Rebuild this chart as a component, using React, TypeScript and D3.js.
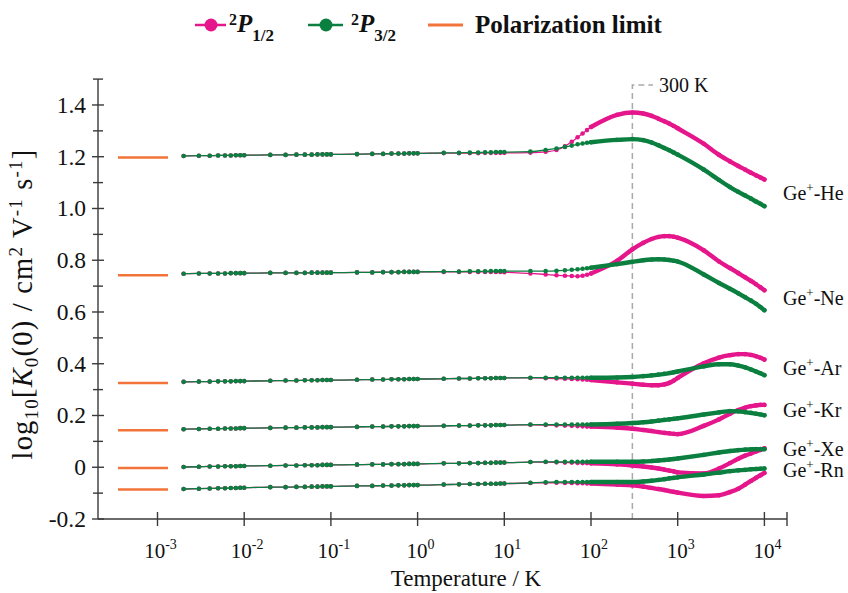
import React from 'react';
import * as d3 from 'd3';

// Temperatures (K) at which the calculated points are drawn
const TEMPS = [
  0.002, 0.003, 0.004, 0.005, 0.006, 0.007, 0.008, 0.009,
  0.01, 0.02, 0.03, 0.04, 0.05, 0.06, 0.07, 0.08, 0.09,
  0.1, 0.2, 0.3, 0.4, 0.5, 0.6, 0.7, 0.8, 0.9,
  1, 2, 3, 4, 5, 6, 7, 8, 9,
  10, 20, 30, 40, 50, 60, 70, 80, 90,
  100, 200, 300, 400, 500, 600, 700, 800, 900,
  1000, 2000, 3000, 4000, 5000, 6000, 7000, 8000, 9000,
  10000,
];

const HE_P32 = [
  1.203, 1.204, 1.204, 1.205, 1.205, 1.205, 1.206, 1.206,
  1.206, 1.207, 1.207, 1.208, 1.208, 1.208, 1.209, 1.209, 1.209,
  1.209, 1.210, 1.211, 1.211, 1.212, 1.212, 1.212, 1.213, 1.213,
  1.213, 1.215, 1.215, 1.216, 1.216, 1.217, 1.217, 1.218, 1.218,
  1.218, 1.220, 1.226, 1.232, 1.238, 1.243, 1.248, 1.251, 1.254,
  1.256, 1.265, 1.268, 1.264, 1.255, 1.244, 1.234, 1.225, 1.216,
  1.208, 1.150, 1.110, 1.083, 1.064, 1.050, 1.038, 1.027, 1.018,
  1.009,
];
const HE_P12 = [
  ...HE_P32.slice(0, 26),
  1.213, 1.214, 1.214, 1.214, 1.214, 1.215, 1.215, 1.215, 1.215,
  1.215, 1.216, 1.219, 1.226, 1.240, 1.258, 1.275, 1.290, 1.303,
  1.315, 1.362, 1.371, 1.367, 1.358, 1.347, 1.337, 1.328, 1.319,
  1.310, 1.250, 1.207, 1.182, 1.164, 1.150, 1.138, 1.128, 1.120,
  1.112,
];

const NE_P32 = [
  0.748, 0.749, 0.749, 0.749, 0.749, 0.750, 0.750, 0.750,
  0.750, 0.751, 0.751, 0.751, 0.751, 0.752, 0.752, 0.752, 0.752,
  0.752, 0.753, 0.753, 0.754, 0.754, 0.754, 0.755, 0.755, 0.755,
  0.755, 0.756, 0.756, 0.757, 0.757, 0.757, 0.758, 0.758, 0.758,
  0.758, 0.758, 0.758, 0.759, 0.761, 0.763, 0.765, 0.767, 0.769,
  0.771, 0.785, 0.794, 0.800, 0.803, 0.804, 0.803, 0.801, 0.798,
  0.795, 0.745, 0.712, 0.690, 0.672, 0.657, 0.644, 0.632, 0.619,
  0.607,
];
const NE_P12 = [
  ...NE_P32.slice(0, 26),
  0.755, 0.755, 0.755, 0.755, 0.755, 0.755, 0.755, 0.755, 0.755,
  0.754, 0.749, 0.745, 0.742, 0.740, 0.739, 0.738, 0.740, 0.744,
  0.749, 0.798, 0.842, 0.867, 0.882, 0.890, 0.893, 0.893, 0.891,
  0.887, 0.838, 0.795, 0.770, 0.750, 0.734, 0.720, 0.707, 0.695,
  0.684,
];

const AR_P32 = [
  0.330, 0.331, 0.331, 0.332, 0.332, 0.332, 0.333, 0.333,
  0.333, 0.334, 0.335, 0.335, 0.336, 0.336, 0.336, 0.337, 0.337,
  0.337, 0.338, 0.339, 0.339, 0.340, 0.340, 0.340, 0.341, 0.341,
  0.341, 0.342, 0.343, 0.343, 0.344, 0.344, 0.344, 0.345, 0.345,
  0.345, 0.346, 0.346, 0.346, 0.346, 0.346, 0.346, 0.346, 0.346,
  0.346, 0.347, 0.349, 0.352, 0.355, 0.358, 0.361, 0.364, 0.367,
  0.370, 0.390, 0.398, 0.398, 0.393, 0.386, 0.378, 0.370, 0.363,
  0.356,
];
const AR_P12 = [
  ...AR_P32.slice(0, 35),
  0.345, 0.345, 0.344, 0.343, 0.342, 0.341, 0.340, 0.339, 0.338,
  0.337, 0.328, 0.323, 0.319, 0.317, 0.317, 0.320, 0.326, 0.335,
  0.345, 0.402, 0.424, 0.433, 0.437, 0.437, 0.434, 0.429, 0.423,
  0.416,
];

const KR_P32 = [
  0.147, 0.148, 0.149, 0.149, 0.150, 0.150, 0.150, 0.151,
  0.151, 0.152, 0.153, 0.153, 0.154, 0.154, 0.154, 0.155, 0.155,
  0.155, 0.156, 0.157, 0.157, 0.158, 0.158, 0.158, 0.159, 0.159,
  0.159, 0.160, 0.161, 0.161, 0.162, 0.162, 0.162, 0.163, 0.163,
  0.163, 0.165, 0.165, 0.165, 0.165, 0.165, 0.165, 0.165, 0.165,
  0.165, 0.168, 0.171, 0.174, 0.177, 0.180, 0.183, 0.185, 0.187,
  0.189, 0.204, 0.212, 0.217, 0.216, 0.213, 0.210, 0.207, 0.204,
  0.201,
];
const KR_P12 = [
  ...KR_P32.slice(0, 35),
  0.163, 0.164, 0.163, 0.162, 0.161, 0.160, 0.159, 0.158, 0.157,
  0.157, 0.153, 0.149, 0.144, 0.140, 0.136, 0.133, 0.131, 0.129,
  0.128, 0.160, 0.185, 0.207, 0.221, 0.230, 0.236, 0.239, 0.241,
  0.241,
];

const XE_P32 = [
  0.001, 0.002, 0.003, 0.003, 0.004, 0.004, 0.004, 0.005,
  0.005, 0.006, 0.007, 0.007, 0.008, 0.008, 0.008, 0.009, 0.009,
  0.009, 0.010, 0.011, 0.011, 0.012, 0.012, 0.012, 0.013, 0.013,
  0.013, 0.015, 0.015, 0.016, 0.016, 0.017, 0.017, 0.018, 0.018,
  0.018, 0.020, 0.021, 0.021, 0.021, 0.021, 0.021, 0.021, 0.021,
  0.021, 0.021, 0.021, 0.022, 0.024, 0.026, 0.028, 0.030, 0.032,
  0.034, 0.048, 0.057, 0.063, 0.066, 0.068, 0.069, 0.070, 0.070,
  0.070,
];
const XE_P12 = [
  ...XE_P32.slice(0, 35),
  0.018, 0.020, 0.020, 0.019, 0.018, 0.018, 0.017, 0.016, 0.016,
  0.015, 0.011, 0.007, 0.003, -0.001, -0.005, -0.009, -0.013, -0.016,
  -0.020, -0.024, -0.005, 0.016, 0.033, 0.045, 0.053, 0.061, 0.067,
  0.073,
];

const RN_P32 = [
  -0.084, -0.083, -0.082, -0.081, -0.081, -0.080, -0.080, -0.079,
  -0.079, -0.077, -0.077, -0.076, -0.076, -0.075, -0.075, -0.074, -0.074,
  -0.074, -0.072, -0.072, -0.071, -0.071, -0.070, -0.070, -0.069, -0.069,
  -0.069, -0.067, -0.066, -0.065, -0.065, -0.064, -0.064, -0.064, -0.063,
  -0.063, -0.060, -0.058, -0.057, -0.057, -0.057, -0.057, -0.057, -0.057,
  -0.057, -0.057, -0.057, -0.055, -0.052, -0.049, -0.046, -0.043, -0.041,
  -0.039, -0.028, -0.021, -0.015, -0.012, -0.010, -0.008, -0.007, -0.006,
  -0.005,
];
const RN_P12 = [
  ...RN_P32.slice(0, 35),
  -0.063, -0.061, -0.060, -0.060, -0.061, -0.061, -0.062, -0.062, -0.063,
  -0.063, -0.067, -0.070, -0.075, -0.080, -0.084, -0.088, -0.092, -0.095,
  -0.098, -0.111, -0.108, -0.096, -0.083, -0.067, -0.053, -0.041, -0.031,
  -0.022,
];

const SYSTEMS = ['He', 'Ne', 'Ar', 'Kr', 'Xe', 'Rn'];
const SERIES_P12 = [HE_P12, NE_P12, AR_P12, KR_P12, XE_P12, RN_P12];
const SERIES_P32 = [HE_P32, NE_P32, AR_P32, KR_P32, XE_P32, RN_P32];
const POL_LIMIT = [1.197, 0.742, 0.326, 0.143, -0.003, -0.086];

const Y_MAJOR = [-0.2, 0, 0.2, 0.4, 0.6, 0.8, 1.0, 1.2, 1.4];
const Y_LABELS = ['-0.2', '0', '0.2', '0.4', '0.6', '0.8', '1.0', '1.2', '1.4'];
const Y_MINOR = [-0.1, 0.1, 0.3, 0.5, 0.7, 0.9, 1.1, 1.3, 1.5];
const X_EXPONENTS = [-3, -2, -1, 0, 1, 2, 3, 4];
const MARK_T = 300;

// ---- layout / style ----
const W = 848;
const H = 593;
const AXIS_LEFT = 98;
const AXIS_RIGHT = 787;
const LABEL_PIX_Y = [193, 298, 368, 410, 449, 470];
const PINK = '#e5168b';
const GREEN = '#0b7f3f';
const ORANGE = '#f3743a';
const AXIS = '#3a3a3a';
const SERIF = "'Liberation Serif', 'Times New Roman', serif";
const THICK_FROM = 100;

const x = d3.scaleLog().domain([1e-3, 1e4]).range([157.5, 764.4]);
const y = d3.scaleLinear().domain([-0.2, 1.5]).range([519, 79.1]);

const lineGen = d3
  .line<[number, number]>()
  .x((d) => x(d[0]))
  .y((d) => y(d[1]))
  .curve(d3.curveMonotoneX);

function Series({ values, color }: { values: number[]; color: string }) {
  const pts: [number, number][] = TEMPS.map((t, i) => [t, values[i]]);
  const thick = pts.filter((p) => p[0] >= THICK_FROM);
  return (
    <g>
      <path d={lineGen(pts) || ''} fill="none" stroke={color} strokeWidth={1.3} />
      <path
        d={lineGen(thick) || ''}
        fill="none"
        stroke={color}
        strokeWidth={4.4}
        strokeLinecap="round"
      />
      {pts.map((p, i) => (
        <circle key={i} cx={x(p[0])} cy={y(p[1])} r={2.3} fill={color} />
      ))}
    </g>
  );
}

export default function App() {
  const axisY = y(-0.2);
  const xMark = x(MARK_T);
  return (
    <svg
      width={W}
      height={H}
      viewBox={`0 0 ${W} ${H}`}
      style={{ position: 'absolute', left: 0, top: 0, background: '#fff' }}
      fontFamily={SERIF}
    >
      <rect x={0} y={0} width={W} height={H} fill="#fff" />

      {/* 300 K marker */}
      <path
        d={`M${xMark},${axisY} V85 H653`}
        fill="none"
        stroke="#aaaaaa"
        strokeWidth={1.5}
        strokeDasharray="6,4"
      />
      <text x={659} y={92} fontSize={20} fill="#111">300 K</text>

      {/* Polarization limits */}
      {POL_LIMIT.map((v, i) => (
        <line key={i} x1={118} x2={168} y1={y(v)} y2={y(v)} stroke={ORANGE} strokeWidth={2.5} />
      ))}

      {/* series */}
      {SYSTEMS.map((s, i) => (
        <g key={s}>
          <Series values={SERIES_P12[i]} color={PINK} />
          <Series values={SERIES_P32[i]} color={GREEN} />
        </g>
      ))}

      {/* system labels */}
      {SYSTEMS.map((s, i) => (
        <text key={s} x={783} y={LABEL_PIX_Y[i] + 7} fontSize={20} fill="#111">
          Ge<tspan dy={-8} fontSize={13}>+</tspan>
          <tspan dy={8}>-{s}</tspan>
        </text>
      ))}

      {/* Y axis */}
      <line x1={AXIS_LEFT} x2={AXIS_LEFT} y1={y(1.5)} y2={axisY} stroke={AXIS} strokeWidth={1.4} />
      {Y_MAJOR.map((v, i) => (
        <g key={'ym' + i}>
          <line x1={AXIS_LEFT - 6} x2={AXIS_LEFT + 6} y1={y(v)} y2={y(v)} stroke={AXIS} strokeWidth={1.4} />
          <text x={86} y={y(v) + 8} fontSize={23.5} textAnchor="end" fill="#111">
            {Y_LABELS[i]}
          </text>
        </g>
      ))}
      {Y_MINOR.map((v, i) => (
        <line key={'yn' + i} x1={AXIS_LEFT - 5} x2={AXIS_LEFT + 5} y1={y(v)} y2={y(v)} stroke={AXIS} strokeWidth={1.4} />
      ))}

      {/* X axis */}
      <line x1={AXIS_LEFT} x2={AXIS_RIGHT} y1={axisY} y2={axisY} stroke={AXIS} strokeWidth={1.4} />
      <line x1={AXIS_RIGHT} x2={AXIS_RIGHT} y1={axisY - 7} y2={axisY + 7} stroke={AXIS} strokeWidth={1.4} />
      {X_EXPONENTS.map((e) => {
        const px = x(Math.pow(10, e));
        return (
          <g key={'x' + e}>
            <line x1={px} x2={px} y1={axisY - 7} y2={axisY + 7} stroke={AXIS} strokeWidth={1.4} />
            <text x={px + 3} y={558} fontSize={21} textAnchor="middle" fill="#111">
              10<tspan dy={-9} fontSize={14}>{String(e)}</tspan>
            </text>
          </g>
        );
      })}

      {/* axis titles */}
      <text x={466} y={586} fontSize={23} textAnchor="middle" fill="#111">
        Temperature / K
      </text>
      <text
        transform="translate(32,304) rotate(-90)"
        fontSize={28.5}
        letterSpacing={1.2}
        textAnchor="middle"
        fill="#111"
      >
        log<tspan dy={6} fontSize={19}>10</tspan>
        <tspan dy={-6}>[</tspan>
        <tspan fontStyle="italic">K</tspan>
        <tspan dy={6} fontSize={19}>0</tspan>
        <tspan dy={-6}>(0) / cm</tspan>
        <tspan dy={-10} fontSize={19}>2</tspan>
        <tspan dy={10}> V</tspan>
        <tspan dy={-10} fontSize={19}>-1</tspan>
        <tspan dy={10}> s</tspan>
        <tspan dy={-10} fontSize={19}>-1</tspan>
        <tspan dy={10}>]</tspan>
      </text>

      {/* legend */}
      <line x1={195} x2={226} y1={25} y2={25} stroke={PINK} strokeWidth={2.5} />
      <circle cx={211} cy={25} r={6.5} fill={PINK} />
      <text x={229} y={32} fontSize={25} fontWeight="bold" fill="#111">
        <tspan dy={-7} fontSize={16}>2</tspan>
        <tspan dy={7} fontStyle="italic">P</tspan>
        <tspan dy={9} fontSize={17}>1/2</tspan>
      </text>
      <line x1={308} x2={343} y1={25} y2={25} stroke={GREEN} strokeWidth={2.5} />
      <circle cx={326} cy={25} r={6.5} fill={GREEN} />
      <text x={351} y={32} fontSize={25} fontWeight="bold" fill="#111">
        <tspan dy={-7} fontSize={16}>2</tspan>
        <tspan dy={7} fontStyle="italic">P</tspan>
        <tspan dy={9} fontSize={17}>3/2</tspan>
      </text>
      <line x1={428} x2={463} y1={25} y2={25} stroke={ORANGE} strokeWidth={3} />
      <text x={475} y={33} fontSize={25} fontWeight="bold" fill="#111">
        Polarization limit
      </text>
    </svg>
  );
}
